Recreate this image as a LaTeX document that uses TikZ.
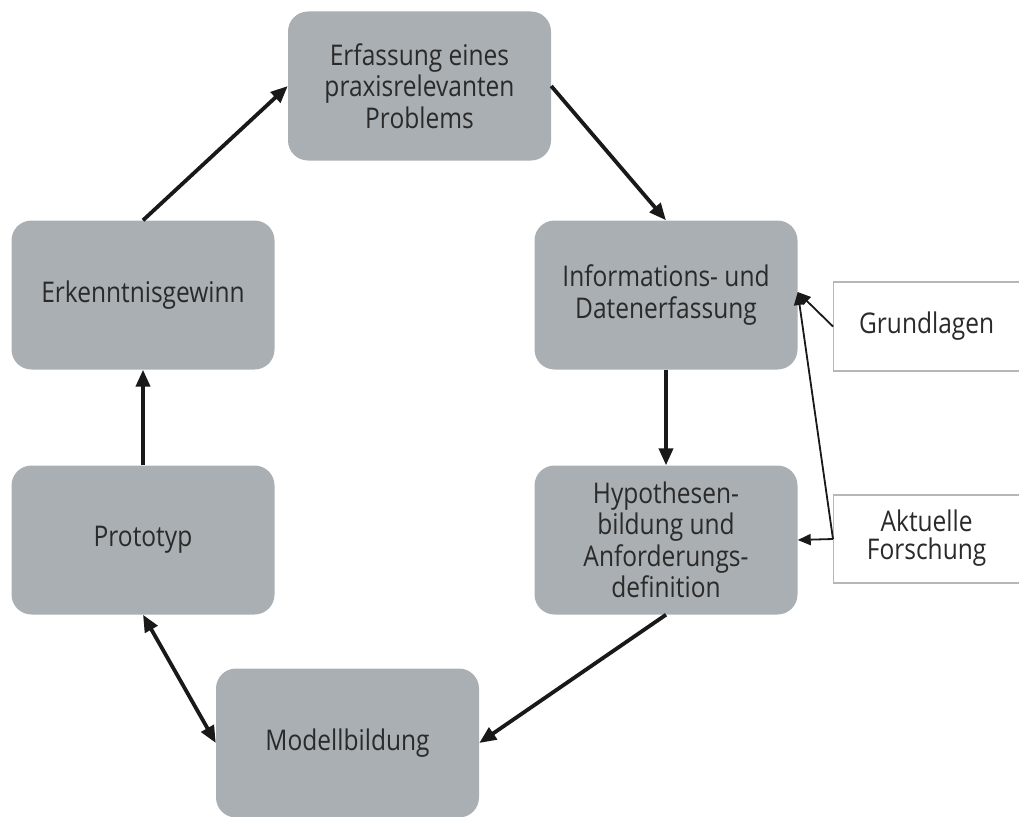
\documentclass[tikz,border=0pt]{standalone}
\usepackage{fontspec}
\setmainfont[FakeStretch=0.86]{Open Sans}
\usetikzlibrary{arrows.meta}
\definecolor{boxgray}{HTML}{A9AFB3}
\definecolor{txt}{HTML}{2A2A2A}
\definecolor{frame}{HTML}{B4B8BB}
\tikzset{
  stage/.style={fill=boxgray, rounded corners=20pt, minimum width=263pt,
    minimum height=149pt, align=center, text=txt, font=\fontsize{28.5}{31.5}\selectfont,
    inner sep=0pt},
  source/.style={draw=frame, line width=1.2pt, fill=white, align=center, text=txt,
    font=\fontsize{28.5}{31.5}\selectfont, inner sep=0pt},
  flow/.style={line width=3.8pt, draw=black!90, -{Triangle[length=17pt,width=14pt]}},
  bothflow/.style={line width=3.8pt, draw=black!90,
    {Triangle[length=17pt,width=14pt]}-{Triangle[length=17pt,width=14pt]}},
  feed/.style={line width=1.8pt, draw=black!90, -{Triangle[length=13pt,width=11pt]}}
}
\begin{document}
\begin{tikzpicture}[x=1pt,y=-1pt]
\useasboundingbox (0,0) rectangle (1019,816);
\begin{scope}
\clip (0,0) rectangle (1019,816);
% process stages
\node[stage] (prob)  at (419.5,86)  {Erfassung eines\\praxisrelevanten\\Problems};
\node[stage] (info)  at (666,295)   {Informations- und\\Datenerfassung};
\node[stage] (hyp)   at (666,540)   {Hypothesen-\\bildung und\\Anforderungs-\\definition};
\node[stage] (model) at (347.5,743) {Modellbildung};
\node[stage] (proto) at (143,540)   {Prototyp};
\node[stage] (erk)   at (143,295)   {Erkenntnisgewinn};
% external inputs
\node[source, minimum width=192pt, minimum height=89pt, anchor=west] (grund) at (833,326.5) {\hspace*{-6pt}Grundlagen};
\node[source, minimum width=192pt, minimum height=88pt, anchor=west] (akt) at (833,539) {\hspace*{-6pt}\begin{tabular}{@{}c@{}}Aktuelle\\[-3pt]Forschung\end{tabular}};
\end{scope}
% cycle
\draw[flow] (erk.north) -- (prob.west);
\draw[flow] (prob.east) -- (info.north);
\draw[flow] (info.south) -- (hyp.north);
\draw[flow] (hyp.south) -- (model.east);
\draw[bothflow] (proto.south) -- (model.west);
\draw[flow] (proto.north) -- (erk.south);
% inputs
\coordinate (inT) at ([yshift=3pt]info.east);
\draw[feed] (grund.west) -- (inT);
\draw[feed] (akt.west) -- (inT);
\draw[feed] (akt.west) -- (hyp.east);
\end{tikzpicture}
\end{document}
